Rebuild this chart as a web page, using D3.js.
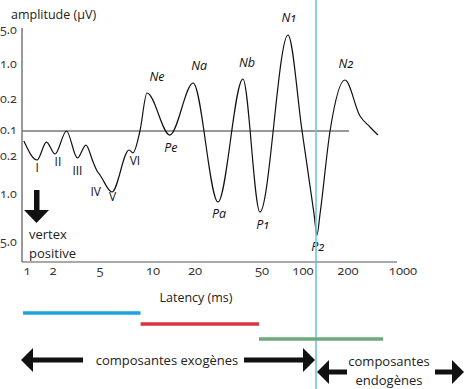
<!DOCTYPE html>
<html><head><meta charset="utf-8">
<script src="https://cdn.jsdelivr.net/npm/d3@7"></script>
<style>
html,body{margin:0;padding:0;background:#fff;}
svg{display:block;font-family:"Open Sans","Noto Sans",sans-serif;font-variant-numeric:oldstyle-nums;}
</style></head>
<body>
<svg id="c" width="464" height="389"></svg>
<script>
// ---- data ----
const xTickValues = [1, 2, 5, 10, 20, 50, 100, 200, 1000];
const yTickValues = [5, 1, 0.2, 0, -0.2, -1, -5];
const yTickLabels = ["5.0", "1.0", "0.2", "0.1", "0.2", "1.0", "5.0"];
const latency = [0.92, 1.31, 1.68, 2.08, 2.60, 3.22, 3.80, 4.37, 4.72, 5.0, 5.85, 7.31, 7.69, 8.43, 9.25, 13.2, 19.4, 27.4, 38.5, 48.6, 77.6, 98.4, 118.5, 124, 130, 151.7, 191, 284, 380, 481];
const amplitude = [-0.077, -0.263, -0.085, -0.177, 0, -0.221, -0.108, -0.305, -0.495, -0.579, -0.937, -0.146, -0.169, 0, 0.36, -0.031, 0.589, -1.58, 0.68, -2.42, 4.53, 0, -2.58, -4.33, -2.58, 0, 0.657, 0.097, 0.026, -0.031];
const romanLabels = ["I", "II", "III", "IV", "V", "VI"];
const romanLatency = [1.31, 2.2, 3.22, 4.6, 5.9, 7.9];
const romanAmp = [-0.42, -0.29, -0.48, -0.92, -1.15, -0.27];
const peakNames = ["Ne", "Pe", "Na", "Pa", "Nb", "P1", "N1", "P2", "N2"];
const peakLatency = [9.25, 13.2, 19.4, 27.4, 38.5, 48.6, 77.6, 124, 191];
const peakAmp = [0.36, -0.031, 0.589, -1.58, 0.68, -2.42, 4.53, -4.33, 0.657];
const ranges = [[0.9, 8.5], [8.5, 48], [48, 560]];
const rangeColors = ["#1ea3da", "#d9333f", "#6ca97c"];

// ---- layout ----
const svg = d3.select("#c");
const x = d3.scaleLog().domain(xTickValues).range([27, 53, 100, 153, 195, 262, 303, 348, 403]);
const y = d3.scaleLinear().domain([-5, -1, -0.2, 0, 0.2, 1, 5]).range([243, 195, 157, 131, 100, 65, 31]);
const axisColor = "#555";

// y axis
svg.append("line").attr("x1", 22).attr("x2", 22).attr("y1", 28).attr("y2", 262)
  .attr("stroke", axisColor).attr("stroke-width", 1.2);
// x axis
svg.append("line").attr("x1", 22).attr("x2", 397).attr("y1", 262).attr("y2", 262)
  .attr("stroke", axisColor).attr("stroke-width", 1.2);

// y tick labels
svg.append("g").selectAll("text").data(yTickValues).join("text")
  .attr("x", 0).attr("y", d => y(d) - 2)
  .attr("dominant-baseline", "central")
  .attr("font-size", 12.5).attr("fill", "#333")
  .text((d, i) => yTickLabels[i]);

// x tick labels
svg.append("g").selectAll("text").data(xTickValues).join("text")
  .attr("x", d => x(d)).attr("y", 270)
  .attr("text-anchor", "middle").attr("dominant-baseline", "central")
  .attr("font-size", 13).attr("fill", "#333")
  .text(d => d);

// titles
svg.append("text").attr("x", 11).attr("y", 14).attr("dominant-baseline", "central")
  .attr("font-size", 12.5).attr("fill", "#222").text("amplitude (µV)");
svg.append("text").attr("x", 196).attr("y", 297).attr("text-anchor", "middle")
  .attr("dominant-baseline", "central").attr("font-size", 12.5).attr("fill", "#222").text("Latency (ms)");

// baseline
svg.append("line").attr("x1", 22).attr("x2", 349).attr("y1", y(0)).attr("y2", y(0))
  .attr("stroke", "#777").attr("stroke-width", 1.5);

// curve
const pts = latency.map((l, i) => [x(l), y(amplitude[i])]);
svg.append("path").attr("d", d3.line().curve(d3.curveMonotoneX)(pts))
  .attr("fill", "none").attr("stroke", "#111").attr("stroke-width", 1.2);

// roman labels
svg.append("g").selectAll("text").data(romanLabels).join("text")
  .attr("x", (d, i) => x(romanLatency[i])).attr("y", (d, i) => y(romanAmp[i]))
  .attr("text-anchor", "middle").attr("dominant-baseline", "central")
  .attr("font-size", 12).attr("fill", "#111").text(d => d);

// peak labels
svg.append("g").selectAll("text").data(peakNames).join("text")
  .attr("x", (d, i) => x(peakLatency[i]) + (d === "Ne" ? 10 : d === "Nb" ? 4 : d === "Na" ? 6 : d === "P1" ? 3 : 1))
  .attr("y", (d, i) => y(peakAmp[i]) + (d[0] === "N" ? -17 : 12))
  .attr("text-anchor", "middle").attr("dominant-baseline", "central")
  .attr("font-size", 12.5).attr("font-style", "italic").attr("fill", "#111")
  .text(d => d);

// vertical blue line
svg.append("line").attr("x1", 316).attr("x2", 316).attr("y1", 0).attr("y2", 389)
  .attr("stroke", "#6cc3e6").attr("stroke-width", 1.6);

// vertex positive arrow
svg.append("rect").attr("x", 34).attr("y", 190).attr("width", 5.5).attr("height", 21).attr("fill", "#111");
svg.append("path").attr("d", "M24,210 L49,210 L36.5,223 Z").attr("fill", "#111");
svg.append("text").attr("x", 29).attr("y", 234).attr("dominant-baseline", "central")
  .attr("font-size", 13).attr("fill", "#222").text("vertex");
svg.append("text").attr("x", 29).attr("y", 253).attr("dominant-baseline", "central")
  .attr("font-size", 13).attr("fill", "#222").text("positive");

// range bars
const barY = [313, 324, 339];
svg.append("g").selectAll("line").data(ranges).join("line")
  .attr("x1", d => x(d[0])).attr("x2", d => x(d[1]))
  .attr("y1", (d, i) => barY[i]).attr("y2", (d, i) => barY[i])
  .attr("stroke", (d, i) => rangeColors[i]).attr("stroke-width", 3.5);

// double arrows
function arrow(xShaft, xTip, yy) {
  const dir = Math.sign(xTip - xShaft);
  const base = xTip - dir * 12;
  svg.append("line").attr("x1", xShaft).attr("x2", base).attr("y1", yy).attr("y2", yy)
    .attr("stroke", "#111").attr("stroke-width", 5);
  svg.append("path").attr("d", `M${xTip},${yy} L${base},${yy - 12} L${base},${yy + 12} Z`).attr("fill", "#111");
}
arrow(83, 21, 360);
arrow(244, 315, 360);
arrow(347, 317, 372);
arrow(435, 464, 372);
svg.append("text").attr("x", 167).attr("y", 360).attr("text-anchor", "middle").attr("dominant-baseline", "central")
  .attr("font-size", 13).attr("fill", "#222").text("composantes exogènes");
svg.append("text").attr("x", 389).attr("y", 361).attr("text-anchor", "middle").attr("dominant-baseline", "central")
  .attr("font-size", 13).attr("fill", "#222").text("composantes");
svg.append("text").attr("x", 389).attr("y", 380).attr("text-anchor", "middle").attr("dominant-baseline", "central")
  .attr("font-size", 13).attr("fill", "#222").text("endogènes");
</script>
</body></html>
